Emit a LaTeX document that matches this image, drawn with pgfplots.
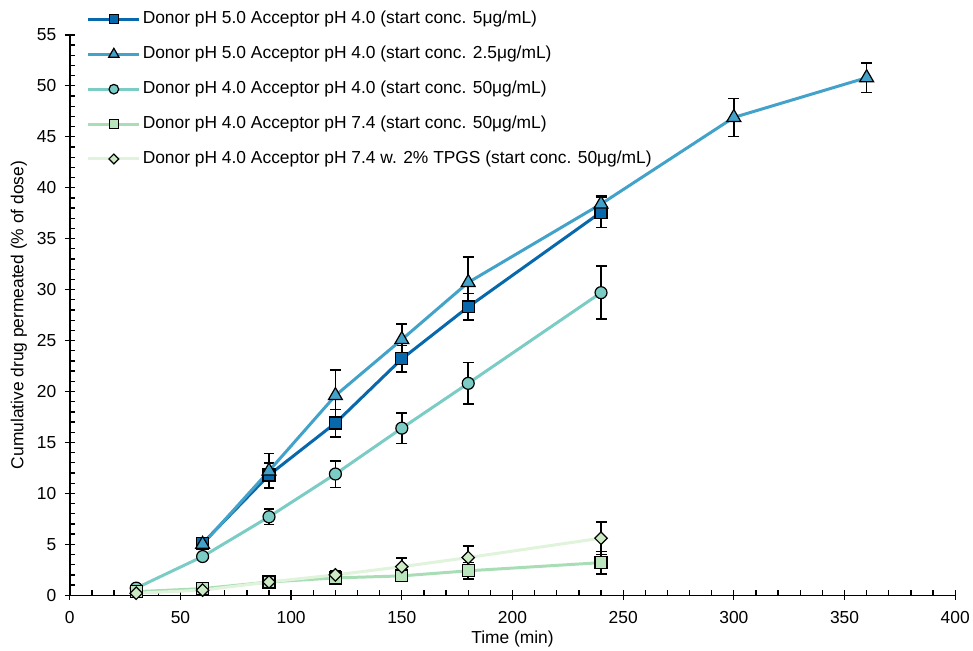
\documentclass[border=0pt]{standalone}
\usepackage{pgfplots}
\pgfplotsset{compat=1.18}
\usepackage{fontspec}
\setmainfont{Liberation Sans}
\definecolor{cA}{HTML}{0868AC}
\definecolor{cB}{HTML}{43A2CA}
\definecolor{cC}{HTML}{7BCCC4}
\definecolor{cD}{HTML}{A8DDB5}
\definecolor{cDf}{HTML}{BAE4BC}
\definecolor{cE}{HTML}{E0F3DB}
\definecolor{cEf}{HTML}{CCEBC5}
\begin{document}
\begin{tikzpicture}
\begin{axis}[
  scale only axis, width=888bp, height=562bp,
  xmin=0, xmax=400, ymin=0, ymax=55,
  axis x line*=bottom, axis y line*=left,
  axis line style={line width=1.5bp, black},
  xtick={0,50,...,400}, ytick={0,5,...,55},
  minor x tick num=4, minor y tick num=4,
  tick align=inside,
  major tick length=10bp, minor tick length=5bp,
  tick style={line width=1.3bp, black},
  every major x tick/.append style={yshift=-5bp},
  every major y tick/.append style={xshift=-5bp},
  /pgf/number format/assume math mode=true,
  ticklabel style={font=\fontsize{17.5}{20}\selectfont},
  xticklabel style={yshift=-13bp},
  yticklabel style={xshift=-10bp},
  xlabel={Time (min)}, ylabel={Cumulative drug permeated (\% of dose)},
  label style={font=\fontsize{17.5}{20}\selectfont},
  xlabel style={at={(axis description cs:0.5,0)}, anchor=center, yshift=-44bp},
  ylabel style={at={([xshift=-51bp]axis description cs:0,0.5)}, anchor=center},
  legend cell align=left,
  legend style={draw=none, fill=none, at={(0,1)}, anchor=north west, xshift=17bp, yshift=26bp,
    inner sep=0pt, row sep=14.5bp,
    font=\fontsize{17.5}{20}\selectfont,
    nodes={inner sep=2bp, text height=12.5bp, text depth=4bp}},
  legend image code/.code={\draw[mark repeat=2,mark phase=2] plot coordinates {(0bp,0bp) (25.5bp,0bp) (51bp,0bp)};},
  error bars/error bar style={black, line width=1.5bp},
  error bars/error mark options={rotate=90, mark size=5.5bp, black, line width=1.5bp},
  every axis plot/.append style={line width=3bp},
]
\addplot[cA, mark=square*, mark size=6bp, mark options={fill=cA, draw=black, line width=1.2bp},
  legend image post style={mark size=4.5bp},
  error bars/.cd, y dir=both, y explicit] coordinates {
  (60,5.1) +- (0,0.4)
  (90,11.8) +- (0,1.2)
  (120,16.9) +- (0,1.35)
  (150,23.2) +- (0,1.3)
  (180,28.3) +- (0,1.3)
  (240,37.6) +- (0,1.5)
};
\addlegendentry{Donor pH 5.0 Acceptor pH 4.0 (start conc. 5μg/mL)}
\addplot[cB, mark=triangle*, mark size=8bp, mark options={fill=cB, draw=black, line width=1.2bp},
  legend image post style={mark size=6bp},
  error bars/.cd, y dir=both, y explicit] coordinates {
  (60,5.0) +- (0,0.3)
  (90,12.2) +- (0,1.7)
  (120,19.6) +- (0,2.5)
  (150,25.1) +- (0,1.5)
  (180,30.7) +- (0,2.5)
  (240,38.4) +- (0,0.8)
  (300,46.9) +- (0,1.85)
  (360,50.8) +- (0,1.45)
};
\addlegendentry{Donor pH 5.0 Acceptor pH 4.0 (start conc. 2.5μg/mL)}
\addplot[cC, mark=*, mark size=6bp, mark options={fill=cC, draw=black, line width=1.2bp},
  legend image post style={mark size=4.8bp},
  error bars/.cd, y dir=both, y explicit] coordinates {
  (30,0.7) +- (0,0)
  (60,3.8) +- (0,0.3)
  (90,7.7) +- (0,0.75)
  (120,11.9) +- (0,1.3)
  (150,16.4) +- (0,1.5)
  (180,20.8) +- (0,2.05)
  (240,29.7) +- (0,2.6)
};
\addlegendentry{Donor pH 4.0 Acceptor pH 4.0 (start conc. 50μg/mL)}
\addplot[cD, mark=square*, mark size=6bp, mark options={fill=cDf, draw=black, line width=1.2bp},
  legend image post style={mark size=4.5bp},
  error bars/.cd, y dir=both, y explicit] coordinates {
  (30,0.35) +- (0,0)
  (60,0.65) +- (0,0.2)
  (90,1.3) +- (0,0.3)
  (120,1.7) +- (0,0.4)
  (150,1.9) +- (0,0.5)
  (180,2.4) +- (0,0.8)
  (240,3.2) +- (0,1.1)
};
\addlegendentry{Donor pH 4.0 Acceptor pH 7.4 (start conc. 50μg/mL)}
\addplot[cE, mark=square*, mark size=4.4bp, mark options={rotate=45, fill=cEf, draw=black, line width=1.2bp},
  legend image post style={mark size=3.5bp},
  error bars/.cd, y dir=both, y explicit] coordinates {
  (30,0.2) +- (0,0)
  (60,0.5) +- (0,0.2)
  (90,1.3) +- (0,0.3)
  (120,2.0) +- (0,0.4)
  (150,2.8) +- (0,0.85)
  (180,3.7) +- (0,1.15)
  (240,5.6) +- (0,1.6)
};
\addlegendentry{Donor pH 4.0 Acceptor pH 7.4 w. 2\% TPGS (start conc. 50μg/mL)}
\end{axis}
\path (current axis.south west) ++(-70bp,-51bp) rectangle ++(973bp,648bp);
\end{tikzpicture}
\end{document}
